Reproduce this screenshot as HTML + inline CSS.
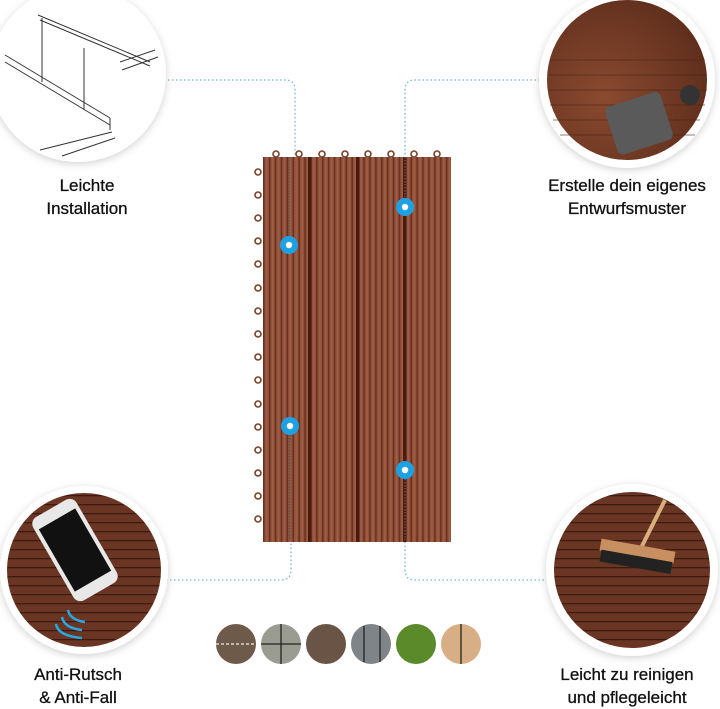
<!DOCTYPE html>
<html><head><meta charset="utf-8"><style>
html,body{margin:0;padding:0;background:#fff;width:720px;height:707px;overflow:hidden}
.t{position:absolute;font-family:"Liberation Sans",sans-serif;font-size:17px;color:#111;text-align:center;line-height:23px;-webkit-text-stroke:0.3px #111}
</style></head><body>
<svg width="720" height="707" style="position:absolute;left:0;top:0">
<defs>
<pattern id="gr" width="5.9" height="10" patternUnits="userSpaceOnUse" x="263">
<rect width="5.9" height="10" fill="#91503a"/>
<rect x="0" width="1.5" height="10" fill="#683222"/>
<rect x="3" width="1.5" height="10" fill="#a05e44"/>
</pattern>
<pattern id="pl" width="10" height="9" patternUnits="userSpaceOnUse">
<rect width="10" height="9" fill="#6a3522"/>
<rect y="0" width="10" height="1.3" fill="#3e1b10"/>
</pattern>
<radialGradient id="tr" cx="0.35" cy="0.6" r="0.7"><stop offset="0" stop-color="#8a4a30"/><stop offset="1" stop-color="#5e2e1c"/></radialGradient>
<filter id="sh" x="-20%" y="-20%" width="140%" height="140%"><feDropShadow dx="0" dy="2" stdDeviation="4" flood-color="#000" flood-opacity="0.18"/></filter>
</defs>
<g fill="none" stroke="#6fb9cf" stroke-width="1.3" stroke-dasharray="1.5 2.5">
<path d="M168 80 H285 Q295 80 295 90 V155"/>
<path d="M548 80 H415 Q405 80 405 90 V155"/>
<path d="M150 580 H281 Q291 580 291 570 V540"/>
<path d="M548 580 H415 Q405 580 405 570 V540"/>
</g>
<circle cx="78" cy="74" r="88" fill="#fff" filter="url(#sh)"/>
<g stroke="#333" stroke-width="1" fill="none">
<path d="M38 15 L150 62 M40 20 L150 66 M120 62 L155 50 M122 70 L158 57"/>
<path d="M5 55 L110 118 M5 62 L110 125 M110 118 L110 130 M40 150 L112 132 M62 156 L115 138"/>
<path d="M42 18 V82 M84 48 V110"/>
</g>
<circle cx="627" cy="80" r="88" fill="#fff" filter="url(#sh)"/>
<circle cx="627" cy="80" r="80" fill="url(#tr)"/>
<g stroke="#4a2414" stroke-width="1" opacity="0.6"><path d="M550 60 H705 M548 75 H707 M548 90 H707 M550 105 H705 M553 120 H700 M560 135 H695"/></g>
<rect x="610" y="98" width="58" height="50" rx="6" fill="#5a5a5a" transform="rotate(-18 640 123)"/>
<circle cx="690" cy="95" r="10" fill="#333"/>
<circle cx="84" cy="570" r="84" fill="#fff" filter="url(#sh)"/>
<circle cx="84" cy="570" r="77" fill="url(#pl)"/>
<rect x="50" y="502" width="50" height="96" rx="8" fill="#e8e8e8" transform="rotate(-30 75 550)"/>
<rect x="54" y="514" width="42" height="72" fill="#111" transform="rotate(-30 75 550)"/>
<g fill="none" stroke="#2aa7e0" stroke-width="2.5"><path d="M68 610 Q70 620 85 622"/><path d="M62 617 Q64 628 82 630"/><path d="M56 624 Q58 636 82 638"/></g>
<circle cx="632" cy="570" r="86" fill="#fff" filter="url(#sh)"/>
<circle cx="632" cy="570" r="78" fill="url(#pl)"/>
<line x1="665" y1="500" x2="640" y2="550" stroke="#d8b080" stroke-width="4"/>
<rect x="600" y="545" width="75" height="12" fill="#c89060" transform="rotate(10 637 551)"/>
<rect x="600" y="556" width="72" height="12" fill="#222" transform="rotate(10 637 562)"/>
<g fill="none" stroke="#7a4028" stroke-width="1.6">
<circle cx="258" cy="172" r="3"/><circle cx="258" cy="195" r="3"/><circle cx="258" cy="218" r="3"/><circle cx="258" cy="241" r="3"/><circle cx="258" cy="264" r="3"/><circle cx="258" cy="288" r="3"/><circle cx="258" cy="311" r="3"/><circle cx="258" cy="334" r="3"/><circle cx="258" cy="357" r="3"/><circle cx="258" cy="380" r="3"/><circle cx="258" cy="404" r="3"/><circle cx="258" cy="427" r="3"/><circle cx="258" cy="450" r="3"/><circle cx="258" cy="473" r="3"/><circle cx="258" cy="496" r="3"/><circle cx="258" cy="519" r="3"/>
<circle cx="276" cy="154" r="3"/><circle cx="299" cy="154" r="3"/><circle cx="322" cy="154" r="3"/><circle cx="345" cy="154" r="3"/><circle cx="368" cy="154" r="3"/><circle cx="391" cy="154" r="3"/><circle cx="414" cy="154" r="3"/><circle cx="437" cy="154" r="3"/>
</g>
<rect x="263" y="157" width="188" height="385" fill="url(#gr)"/>
<rect x="308" y="157" width="3.5" height="385" fill="#4a1a0e"/>
<rect x="356" y="157" width="3.5" height="385" fill="#4a1a0e"/>
<rect x="403" y="157" width="3.5" height="385" fill="#4a1a0e"/>
<g fill="none" stroke="#555" stroke-width="1.5" stroke-dasharray="1.5 1.5">
<path d="M289 157 V245 M405 157 V207 M290 426 V540 M405 470 V540"/>
</g>
<g fill="#1ea1e3"><circle cx="289" cy="245" r="9"/><circle cx="405" cy="207" r="9"/><circle cx="290" cy="426" r="9"/><circle cx="405" cy="470" r="9"/></g>
<g fill="#fff"><circle cx="289" cy="245" r="3.2"/><circle cx="405" cy="207" r="3.2"/><circle cx="290" cy="426" r="3.2"/><circle cx="405" cy="470" r="3.2"/></g>
<circle cx="236" cy="644" r="20" fill="#6e5a48"/>
<circle cx="281" cy="644" r="20" fill="#9a9c92"/>
<circle cx="326" cy="644" r="20" fill="#6a5446"/>
<circle cx="371" cy="644" r="20" fill="#7e8488"/>
<circle cx="416" cy="644" r="20" fill="#5a8a2a"/>
<circle cx="461" cy="644" r="20" fill="#d8ae84"/>
<g stroke="#222" stroke-width="1.3"><path d="M281 624 V664 M261 644 H301 M364 626 V662 M380 626 V662 M461 624 V664"/></g>
<g stroke="#eee" stroke-width="1.3" stroke-dasharray="3 2"><path d="M216 644 H256"/></g>
</svg>
<div class="t" style="left:17px;top:174px;width:140px">Leichte<br>Installation</div>
<div class="t" style="left:517px;top:174px;width:220px">Erstelle dein eigenes<br>Entwurfsmuster</div>
<div class="t" style="left:8px;top:663px;width:140px">Anti-Rutsch<br>&amp; Anti-Fall</div>
<div class="t" style="left:517px;top:663px;width:220px">Leicht zu reinigen<br>und pflegeleicht</div>
</body></html>
